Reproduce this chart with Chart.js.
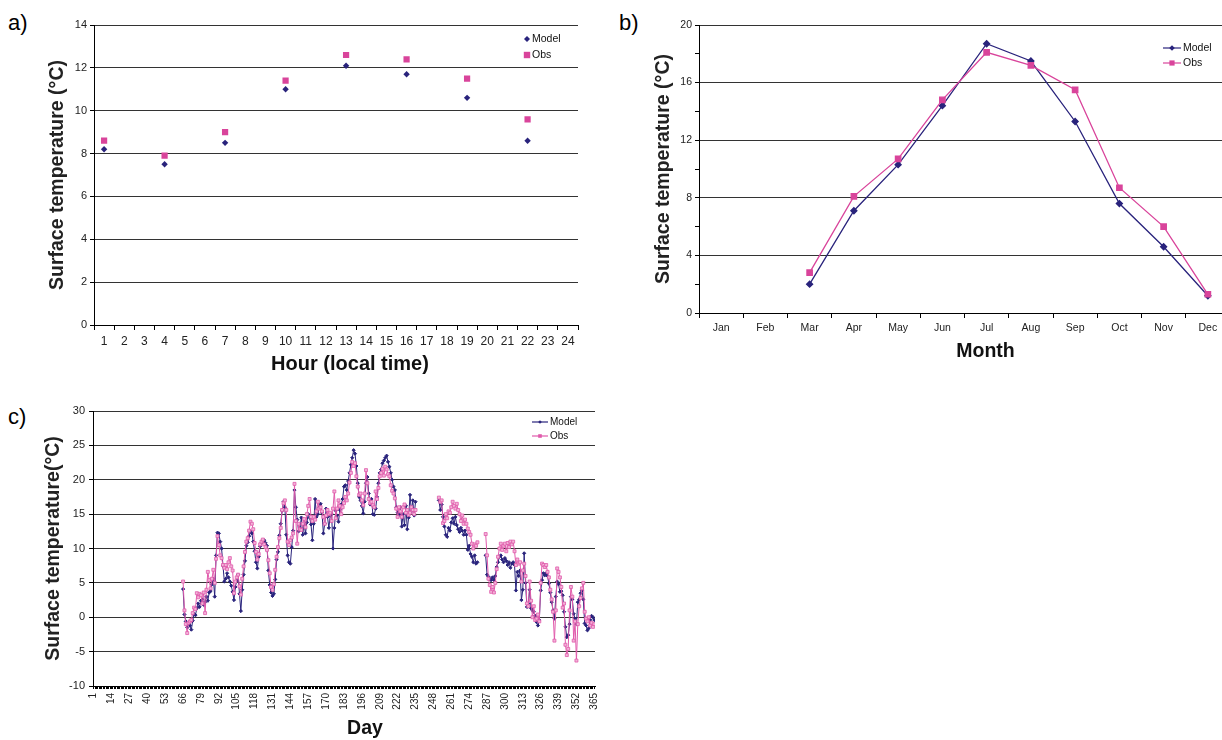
<!DOCTYPE html>
<html>
<head>
<meta charset="utf-8">
<script src="https://cdn.jsdelivr.net/npm/chart.js@4.4.1/dist/chart.umd.min.js"></script>
<style>
  html, body { margin: 0; padding: 0; background: #fff; }
  body { width: 1222px; height: 740px; overflow: hidden; position: relative; }
  .panel { position: absolute; }
  .tag { position: absolute; font: 22px "Liberation Sans", Arial, sans-serif; color: #000; line-height: 1; }
</style>
</head>
<body>
<div class="tag" style="left:8px; top:12px;">a)</div>
<div class="tag" style="left:619px; top:12px;">b)</div>
<div class="tag" style="left:8px; top:406px;">c)</div>

<div class="panel" style="left:0; top:0; width:600px; height:385px;"><canvas id="chartA"></canvas></div>
<div class="panel" style="left:610px; top:0; width:640px; height:375px;"><canvas id="chartB"></canvas></div>
<div class="panel" style="left:0; top:390px; width:615px; height:350px;"><canvas id="chartC"></canvas></div>

<script>
// --- Data ---
// a) diurnal cycle
const hourLabels = [1, 2, 3, 4, 5, 6, 7, 8, 9, 10, 11, 12, 13, 14, 15, 16, 17, 18, 19, 20, 21, 22, 23, 24];
const hoursA = [1, 4, 7, 10, 13, 16, 19, 22];
const modelA = [8.2, 7.5, 8.5, 11.0, 12.1, 11.7, 10.6, 8.6];
const obsA = [8.6, 7.9, 9.0, 11.4, 12.6, 12.4, 11.5, 9.6];

// b) monthly means
const monthLabels = ['Jan', 'Feb', 'Mar', 'Apr', 'May', 'Jun', 'Jul', 'Aug', 'Sep', 'Oct', 'Nov', 'Dec'];
const modelB = [null, null, 2.0, 7.1, 10.3, 14.4, 18.7, 17.5, 13.3, 7.6, 4.6, 1.2];
const obsB = [null, null, 2.8, 8.1, 10.7, 14.8, 18.1, 17.2, 15.5, 8.7, 6.0, 1.3];

// c) daily means, day 66 to day 365 (null = no data)
const dayTickLabels = [1, 14, 27, 40, 53, 66, 79, 92, 105, 118, 131, 144, 157, 170, 183, 196, 209, 222, 235, 248, 261, 274, 287, 300, 313, 326, 339, 352, 365];
const firstDayC = 66;
const modelC = [
  4.1, 0.4, -0.6, -1.5, -0.9, -1.2, -1.8, -0.5, 0.5, 0.3,
  1.3, 2.0, 1.5, 2.4, 2.6, 1.8, 2.2, 3.0, 2.4, 3.6,
  3.8, 4.8, 5.6, 3.0, 9.0, 12.3, 12.2, 11.0, 10.0, 7.5,
  5.2, 5.6, 6.4, 5.8, 5.2, 4.6, 3.7, 2.5, 4.4, 5.3,
  6.2, 3.4, 0.9, 4.0, 6.2, 8.2, 10.4, 10.9, 11.8, 12.5,
  12.2, 11.0, 9.6, 8.0, 7.1, 8.8, 10.3, 10.8, 10.9, 11.2,
  10.8, 10.4, 6.8, 4.7, 3.6, 3.1, 3.4, 5.5, 8.4, 9.5,
  11.9, 13.6, 15.5, 16.8, 16.0, 12.0, 9.0, 8.0, 7.8, 10.2,
  12.6, 18.5, 16.0, 14.2, 12.5, 13.0, 14.5, 12.0, 13.5, 12.2,
  13.8, 15.0, 14.5, 13.5, 11.2, 13.6, 17.2, 14.6, 15.0, 16.0,
  16.5, 15.2, 12.2, 13.6, 15.8, 14.6, 13.0, 14.8, 15.0, 10.0,
  13.0, 15.5, 14.8, 13.9, 15.6, 16.4, 17.2, 19.0, 19.2, 18.5,
  19.8, 21.0, 22.2, 23.2, 24.3, 23.8, 22.0, 19.5, 17.5, 17.0,
  16.2, 15.1, 16.8, 19.5, 20.4, 18.0, 16.4, 17.2, 15.0, 14.9,
  15.8, 17.5, 19.5, 21.0, 21.5, 22.4, 22.8, 23.2, 23.5, 22.6,
  21.9, 21.0, 20.0, 19.0, 18.5, 16.0, 15.2, 14.9, 16.0, 13.2,
  15.0, 13.4, 16.2, 12.8, 14.5, 17.8, 15.4, 17.0, 14.8, 16.8,
  null, null, null, null, null, null, null, null, null, null, null, null, null, null, null, null,
  17.0, 15.6, 16.4, 14.6, 13.2, 12.0, 11.7, 13.0, 12.6, 13.8,
  14.4, 13.6, 14.6, 13.4, 12.8, 12.4, 13.0, 12.6, 12.0, 12.6,
  12.0, 9.8, 10.4, 9.2, 8.8, 8.0, 9.0, 7.8, 8.0, null,
  null, null, null, null,
  9.0, 6.2, 5.9, 5.6, 5.4, 5.8, 5.4, 6.0, 7.3, 8.0,
  8.8, 9.0, 8.4, 8.0, 8.6, 8.2, 7.6, 8.0, 7.2, 7.8,
  8.0, 7.6, 3.9, 6.6, 6.0, 6.8, 2.5, 4.0, 9.3, 5.0,
  1.5, 2.0, 4.0, 1.3, 1.0, 0.8, 0.2, -0.7, -1.2, -0.4,
  3.9, 5.4, 6.4, 6.1, 6.4, 6.0, 4.9, 3.6, 2.2, 1.0,
  -0.2, 3.0, 5.2, 4.8, 3.7, 3.8, 3.2, 0.8, -1.4, -2.9,
  -2.6, -1.0, 3.0, 2.6, 0.5, -0.2, -1.0, 2.2, 2.6, 3.5,
  3.9, 2.6, -0.9, -1.2, -1.9, -1.6, -0.4, 0.2, 0.0, -0.4
];
const obsC = [
  5.2, 1.0, -1.0, -2.3, -0.8, -0.6, -0.4, 0.6, 1.4, 1.2,
  3.5, 2.9, 3.4, 3.2, 2.0, 3.6, 0.6, 4.0, 6.6, 5.4,
  4.2, 5.6, 6.9, 5.0, 8.5, 11.8, 10.5, 9.0, 8.6, 7.6,
  7.2, 7.6, 7.0, 8.0, 8.6, 7.4, 6.8, 3.5, 5.2, 5.8,
  6.2, 4.5, 3.3, 5.6, 7.4, 9.5, 11.0, 11.5, 12.6, 13.9,
  13.6, 12.8, 10.8, 9.5, 8.4, 9.2, 10.6, 11.0, 11.3, 10.6,
  10.2, 9.8, 8.3, 6.4, 4.4, 4.0, 4.8, 6.9, 8.8, 10.2,
  11.5, 13.0, 15.6, 16.6, 17.0, 15.6, 11.0, 10.5, 11.2, 11.6,
  12.2, 19.4, 14.0, 10.7, 13.6, 12.8, 12.7, 13.6, 14.3, 13.1,
  15.0, 16.2, 17.2, 14.6, 14.0, 14.6, 14.2, 15.4, 16.8, 15.8,
  16.0, 15.4, 14.6, 13.6, 14.8, 15.6, 15.0, 15.2, 14.0, 15.8,
  18.3, 14.4, 15.8, 17.0, 16.2, 15.0, 16.0, 16.6, 17.5, 17.0,
  18.0, 19.6, 21.0, 22.6, 22.0, 22.4, 20.5, 19.0, 17.8, 18.0,
  17.0, 16.3, 18.0, 21.4, 19.5, 17.2, 16.6, 16.8, 16.3, 16.0,
  18.3, 17.2, 18.8, 20.5, 21.0, 21.6, 20.6, 21.9, 21.5, 20.8,
  20.5, 19.2, 18.4, 18.0, 17.3, 15.8, 14.6, 16.0, 15.4, 14.6,
  16.0, 16.4, 15.2, 15.6, 14.9, 15.2, 16.0, 15.6, 15.0, 15.6,
  null, null, null, null, null, null, null, null, null, null, null, null, null, null, null, null,
  17.4, 16.8, 17.0, 13.7, 14.0, 15.0, 14.4, 15.4, 15.2, 16.0,
  16.8, 16.2, 15.8, 16.5, 15.6, 15.0, 14.0, 14.8, 13.6, 14.2,
  13.6, 12.9, 12.4, 12.0, 10.7, 10.0, 10.6, 10.4, 10.9, null,
  null, null, null, null,
  12.1, 9.0, 5.6, 4.7, 3.7, 4.4, 3.6, 5.0, 7.0, 8.8,
  10.0, 10.7, 9.8, 10.4, 10.7, 9.6, 10.8, 10.2, 11.0, 10.6,
  11.0, 9.6, 7.6, 8.4, 7.8, 8.0, 5.2, 6.8, 7.8, 6.0,
  2.0, 1.6, 5.2, 2.4, 0.0, 1.6, -0.4, -0.2, 0.4, -0.6,
  5.0, 7.8, 7.6, 7.3, 7.6, 6.6, 5.8, 4.0, 2.6, 0.8,
  -3.4, 1.0, 7.1, 6.6, 5.8, 4.4, 1.4, 2.0, -4.0, -5.5,
  -4.6, 1.0, 4.4, 3.0, -3.4, -0.6, -6.3, -1.0, 1.6, 2.8,
  4.2, 5.0, 0.8, -0.2, -0.6, 0.0, -1.2, -0.8, -1.4, -1.0
];

// --- Shared look ---
const MODEL = '#29237c';
const OBS = '#d9449b';
const OBS_C = '#e05aab';
const FONT = '"Liberation Sans", Arial, sans-serif';
Chart.defaults.font.family = FONT;
Chart.defaults.color = '#222';
Chart.defaults.animation = false;
Chart.defaults.responsive = true;
Chart.defaults.maintainAspectRatio = false;
Chart.defaults.plugins.legend.display = false;
Chart.defaults.plugins.tooltip.enabled = false;

const titleFont = { family: FONT, size: 19.5, weight: 'bold' };

// legend drawn inside the plot, Excel style
function drawMarker(ctx, style, x, y, r, color) {
  ctx.fillStyle = color;
  ctx.beginPath();
  if (style === 'diamond') {
    ctx.moveTo(x, y - r); ctx.lineTo(x + r, y); ctx.lineTo(x, y + r); ctx.lineTo(x - r, y);
  } else {
    ctx.rect(x - r, y - r, 2 * r, 2 * r);
  }
  ctx.closePath();
  ctx.fill();
}

const insideLegend = {
  id: 'insideLegend',
  afterDraw(chart, args, opts) {
    if (!opts || !opts.items) return;
    const ctx = chart.ctx;
    ctx.save();
    ctx.font = opts.font || ('10.5px ' + FONT);
    ctx.textBaseline = 'middle';
    opts.items.forEach((it, i) => {
      const y = opts.y + i * opts.gap;
      const lineLen = opts.line || 0;
      if (lineLen) {
        ctx.strokeStyle = it.color;
        ctx.lineWidth = 1.2;
        ctx.beginPath();
        ctx.moveTo(opts.x, y);
        ctx.lineTo(opts.x + lineLen, y);
        ctx.stroke();
      }
      drawMarker(ctx, it.style, opts.x + lineLen / 2, y, it.size, it.color);
      ctx.fillStyle = '#111';
      ctx.fillText(it.label, opts.x + lineLen + opts.textGap, y);
    });
    ctx.restore();
  }
};

// x axis title, sat a little right of the plot centre like the original
const xTitle = {
  id: 'xTitle',
  afterDraw(chart, args, opts) {
    if (!opts || !opts.text) return;
    const { ctx, chartArea } = chart;
    ctx.save();
    ctx.font = 'bold ' + (opts.size || 19.5) + 'px ' + FONT;
    ctx.fillStyle = '#111';
    ctx.textAlign = 'center';
    ctx.textBaseline = 'middle';
    ctx.fillText(opts.text, (chartArea.left + chartArea.right) / 2 + opts.dx, opts.y);
    ctx.restore();
  }
};
Chart.register(insideLegend, xTitle);

// --- a) Hour of day ---
new Chart(document.getElementById('chartA'), {
  type: 'line',
  data: {
    labels: hourLabels,
    datasets: [
      {
        label: 'Obs',
        data: hoursA.map((h, i) => ({ x: h, y: obsA[i] })),
        showLine: false,
        pointStyle: 'rect',
        pointRadius: 4.4,
        backgroundColor: OBS,
        borderColor: OBS,
        borderWidth: 0
      },
      {
        label: 'Model',
        data: hoursA.map((h, i) => ({ x: h, y: modelA[i] })),
        showLine: false,
        pointStyle: 'rectRot',
        pointRadius: 3.2,
        backgroundColor: MODEL,
        borderColor: MODEL,
        borderWidth: 0
      }
    ]
  },
  options: {
    layout: { padding: { left: 0, top: 25, right: 22, bottom: 0 } },
    plugins: {
      insideLegend: {
        x: 527, y: 39, gap: 16, textGap: 5,
        items: [
          { label: 'Model', color: MODEL, style: 'diamond', size: 3 },
          { label: 'Obs', color: OBS, style: 'square', size: 3.2 }
        ]
      },
      xTitle: { text: 'Hour (local time)', dx: 14, y: 364, size: 20 }
    },
    scales: {
      x: {
        type: 'category',
        offset: true,
        grid: { offset: true, drawOnChartArea: false, color: '#000', tickLength: 5 },
        border: { color: '#000' },
        ticks: { font: { size: 12 }, color: '#222', padding: 4, maxRotation: 0, autoSkip: false },
        afterFit: (s) => { s.height = 60; }
      },
      y: {
        min: 0,
        max: 14,
        ticks: { stepSize: 2, font: { size: 11 }, color: '#222', padding: 3 },
        grid: { color: '#333', tickColor: '#000', tickLength: 4 },
        border: { color: '#000' },
        title: { display: true, text: 'Surface temperature (°C)', font: titleFont, padding: { top: 46, bottom: 0 } },
        afterFit: (s) => { s.width = 94; }
      }
    }
  }
});

// --- b) Month ---
new Chart(document.getElementById('chartB'), {
  type: 'line',
  data: {
    labels: monthLabels,
    datasets: [
      {
        label: 'Obs',
        data: obsB,
        borderColor: OBS,
        backgroundColor: OBS,
        borderWidth: 1.3,
        pointStyle: 'rect',
        pointRadius: 3.8,
        tension: 0
      },
      {
        label: 'Model',
        data: modelB,
        borderColor: MODEL,
        backgroundColor: MODEL,
        borderWidth: 1.3,
        pointStyle: 'rectRot',
        pointRadius: 3,
        tension: 0
      }
    ]
  },
  options: {
    layout: { padding: { left: 0, top: 25, right: 20, bottom: 0 } },
    plugins: {
      insideLegend: {
        x: 553, y: 48, gap: 15, textGap: 2, line: 18,
        items: [
          { label: 'Model', color: MODEL, style: 'diamond', size: 2.8 },
          { label: 'Obs', color: OBS, style: 'square', size: 2.6 }
        ]
      },
      xTitle: { text: 'Month', dx: 21, y: 352 }
    },
    scales: {
      x: {
        type: 'category',
        offset: true,
        grid: { offset: true, drawOnChartArea: false, color: '#000', tickLength: 5 },
        border: { color: '#000' },
        ticks: { font: { size: 10.5 }, color: '#222', padding: 4, maxRotation: 0, autoSkip: false },
        afterFit: (s) => { s.height = 62; }
      },
      y: {
        min: 0,
        max: 20,
        ticks: {
          stepSize: 2,
          font: { size: 10.5 },
          color: '#222',
          padding: 3,
          callback: (v) => (v % 4 === 0 ? v : '')
        },
        grid: {
          color: (c) => (c.tick && c.tick.value % 4 === 0 ? '#333' : 'rgba(0,0,0,0)'),
          tickColor: '#000',
          tickLength: 4
        },
        border: { color: '#000' },
        title: { display: true, text: 'Surface temperature (°C)', font: titleFont, padding: { top: 41.5, bottom: 0 } },
        afterFit: (s) => { s.width = 89; }
      }
    }
  }
});

// --- c) Day of year ---
const allDays = Array.from({ length: 365 }, (_, i) => i + 1);

new Chart(document.getElementById('chartC'), {
  type: 'line',
  data: {
    datasets: [
      {
        label: 'Obs',
        data: obsC.map((v, i) => ({ x: firstDayC + i, y: v })),
        borderColor: OBS_C,
        backgroundColor: '#f3b3d8',
        pointBorderColor: OBS_C,
        borderWidth: 1,
        pointBorderWidth: 0.8,
        pointStyle: 'rect',
        pointRadius: 2.1,
        tension: 0,
        spanGaps: false
      },
      {
        label: 'Model',
        data: modelC.map((v, i) => ({ x: firstDayC + i, y: v })),
        borderColor: MODEL,
        backgroundColor: MODEL,
        borderWidth: 1,
        pointStyle: 'rectRot',
        pointRadius: 1.6,
        tension: 0,
        spanGaps: false
      }
    ]
  },
  options: {
    layout: { padding: { left: 0, top: 21, right: 20, bottom: 0 } },
    plugins: {
      insideLegend: {
        x: 532, y: 32, gap: 14, textGap: 2, line: 16, font: '10px ' + FONT,
        items: [
          { label: 'Model', color: MODEL, style: 'diamond', size: 1.8 },
          { label: 'Obs', color: OBS_C, style: 'square', size: 1.8 }
        ]
      },
      xTitle: { text: 'Day', dx: 21, y: 339 }
    },
    scales: {
      x: {
        type: 'linear',
        min: 0.5,
        max: 365.5,
        afterBuildTicks: (s) => { s.ticks = allDays.map((d) => ({ value: d })); },
        ticks: {
          autoSkip: false,
          minRotation: 90,
          maxRotation: 90,
          font: { size: 10 },
          color: '#222',
          padding: 4,
          callback: (v) => (dayTickLabels.includes(v) ? String(v) : '')
        },
        grid: { drawOnChartArea: false, color: '#000', tickLength: 3 },
        border: { color: '#000' },
        afterFit: (s) => { s.height = 54; }
      },
      y: {
        min: -10,
        max: 30,
        ticks: { stepSize: 5, font: { size: 11 }, color: '#222', padding: 4 },
        grid: { color: '#333', tickColor: '#000', tickLength: 4 },
        border: { color: '#000' },
        title: { display: true, text: 'Surface temperature(°C)', font: titleFont, padding: { top: 41.5, bottom: 0 } },
        afterFit: (s) => { s.width = 93; }
      }
    }
  }
});
</script>
</body>
</html>
